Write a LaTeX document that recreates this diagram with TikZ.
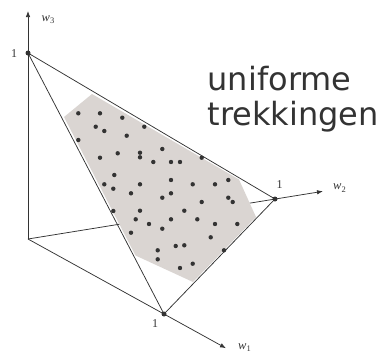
\documentclass[tikz,border=0pt]{standalone}
\usepackage{fontspec}
\newfontfamily\sansfnt{DejaVu Sans}
\newfontfamily\serfnt{Liberation Serif}
\usetikzlibrary{arrows.meta}
\definecolor{ink}{HTML}{333333}
\definecolor{regiongray}{HTML}{DAD5D2}
\newcommand{\wlab}[1]{{\serfnt\fontsize{12.5}{12.5}\selectfont\itshape w}\raisebox{-2.8pt}{\serfnt\fontsize{8.5}{8.5}\selectfont #1}}
\begin{document}
\begin{tikzpicture}[x=1pt,y=-1pt,
  edge/.style={draw=ink,line width=0.75pt},
  axis/.style={edge,-{Latex[length=6pt,width=4.5pt]}},
  vdot/.style={circle,fill=ink,inner sep=0pt,minimum size=5pt},
  one/.style={font=\serfnt\fontsize{12}{12}\selectfont,text=ink,inner sep=0pt},
  wl/.style={text=ink,inner sep=0pt,anchor=base west},
  big/.style={font=\sansfnt\fontsize{32}{35}\selectfont,text=ink,inner sep=0pt,anchor=base west}]
\useasboundingbox (0,0) rectangle (382,356);
\coordinate (O) at (28,239);
\coordinate (T3) at (28,11);
\coordinate (T2) at (323,191.3);
\coordinate (T1) at (226,348.2);
% axes
\draw[axis] (O) -- (T3);
\draw[axis] (O) -- (T2);
\draw[axis] (O) -- (T1);
% shaded region of draws
\fill[fill=regiongray] (64,117) -- (92,94) -- (239,179.5) -- (256,217) -- (193,282) -- (135.5,255.5) -- cycle;
% simplex vertices
\node[vdot] (A) at (28,53) {};
\node[vdot] (B) at (275,199) {};
\node[vdot] (C) at (164,314) {};
\draw[edge,line join=round] (A.center) -- (B.center) -- (C.center) -- cycle;
% sample points
\foreach \x/\y in {78.3/113.3,100/113.3,122.3/117.7,95.7/126.7,104.3/131,144.3/126.7,126.7/135.7,78.3/140,
  117.7/153.3,140/152.7,140/157.3,100/157.7,162.3/149,153.3/162,171/162,180/162,201.7/157.7,
  114.3/175,104.3/184.3,113.3/188.7,140/184.3,171/180,131/193.3,162.3/197.7,171/193.3,
  192.7/184.3,215/184.3,228.3/180,228.3/197.7,232.7/202,201.7/202,113.3/211,140/210.7,
  135.7/219.3,149/224,162.3/228.7,171/219.3,184.3/210.7,197.3/219.3,215/224,237.3/224,
  131/232.7,210.7/237.3,175.7/246,184.3/245.3,157.7/250.3,157.7/259.3,224/250.3,180/268,192.7/263.7}
  \fill[ink] (\x,\y) circle (2.2);
% labels
\node[wl] (l3) at (41.5,21) {\wlab{3}};
\node[wl] (l2) at (333,189.5) {\wlab{2}};
\node[wl] (l1) at (238,349) {\wlab{1}};
\node[one] (o3) at (14,53.5) {1};
\node[one] (o2) at (279.5,184.5) {1};
\node[one] (o1) at (155,323.3) {1};
\node[big] (t1) at (207.5,90) {uniforme};
\node[big] (t2) at (207.5,125) {trekkingen};
\end{tikzpicture}
\end{document}
